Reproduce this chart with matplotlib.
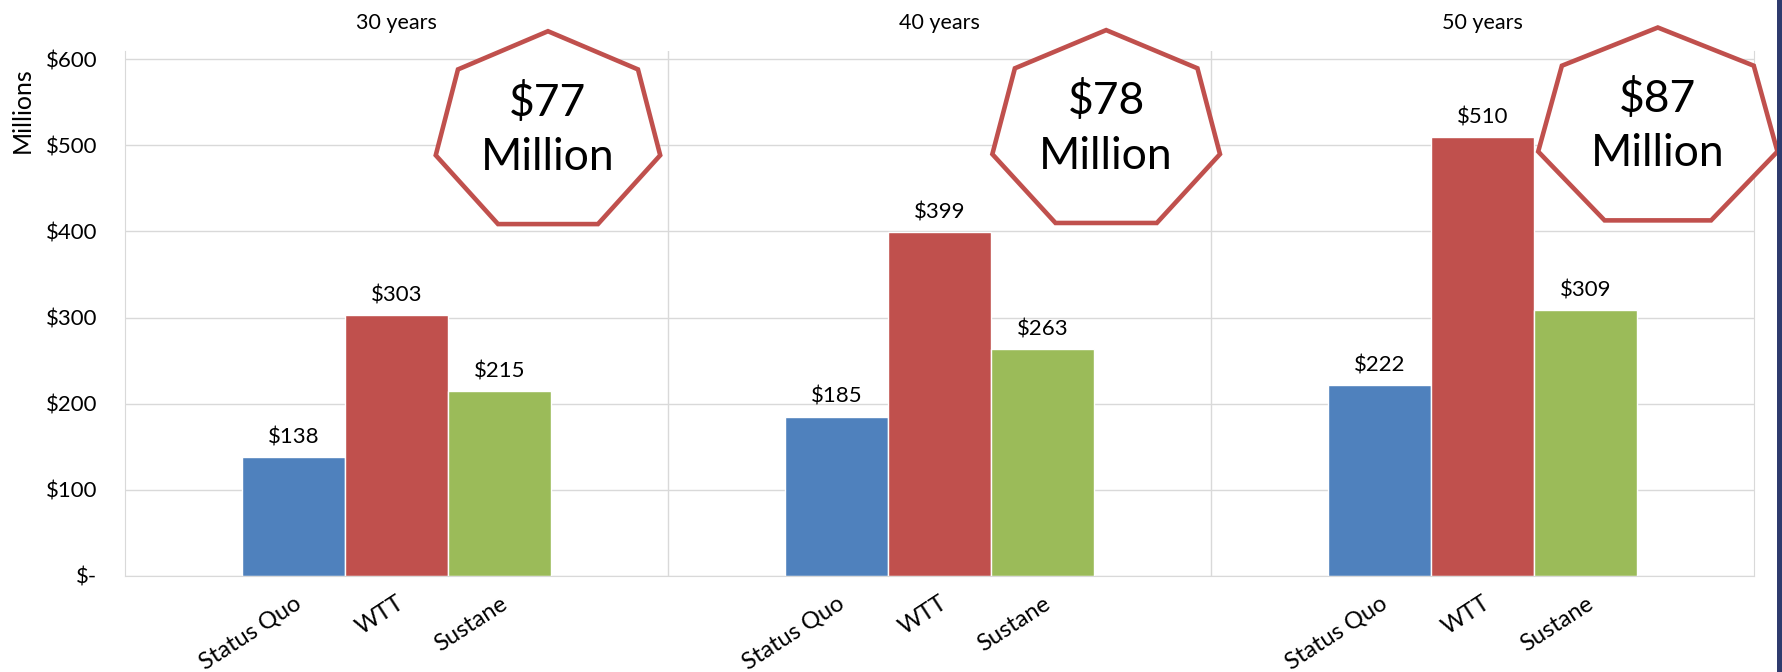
import numpy as np
import matplotlib
matplotlib.use("Agg")
import matplotlib.pyplot as plt
from matplotlib.patches import Polygon, Rectangle
from matplotlib import transforms

periods = ["30 years", "40 years", "50 years"]
options = ["Status Quo", "WTT", "Sustane"]
status_quo = [138, 185, 222]
wtt = [303, 399, 510]
sustane = [215, 263, 309]
savings = [77, 78, 87]

colors = ["#4F81BD", "#C0504D", "#9BBB59"]
grid_c = "#D9D9D9"

plt.rcParams["font.family"] = ["Lato", "DejaVu Sans"]
plt.rcParams["text.parse_math"] = False

fig = plt.figure(figsize=(17.83, 6.72), dpi=100)
ax = fig.add_axes([0.0701, 0.1429, 0.9136, 0.7818])

width = 0.19
x = np.arange(len(periods))
tick_pos = []
for k, (vals, c) in enumerate(zip([status_quo, wtt, sustane], colors)):
    pos = x + (k - 1) * width
    tick_pos.append(pos)
    ax.bar(pos, vals, width, color=c, edgecolor="white", linewidth=1, zorder=2)
    for p, v in zip(pos, vals):
        ax.annotate("$%d" % v, (p, v), xytext=(0, 7), textcoords="offset points",
                    ha="center", va="bottom", fontsize=16)

ax.set_xlim(-0.5, 2.5)
ax.set_ylim(0, 610)
ax.set_yticks(range(0, 601, 100))
ax.set_yticklabels(["$-"] + ["$%d" % v for v in range(100, 601, 100)], fontsize=16)
ax.yaxis.grid(True, color=grid_c, lw=1, zorder=0)
for b in [0.5, 1.5]:
    ax.axvline(b, color=grid_c, lw=1, zorder=0)
for s in ["left", "right", "bottom"]:
    ax.spines[s].set_color(grid_c)
ax.spines["top"].set_visible(False)

# category ticks sit under each bar
order = np.argsort(np.concatenate(tick_pos))
all_pos = np.concatenate(tick_pos)[order]
all_lab = np.array([o for o in options for _ in periods])[order]
ax.set_xticks(all_pos)
ax.set_xticklabels(all_lab, rotation=33, ha="right", rotation_mode="anchor", fontsize=17)
ax.tick_params(length=0)
ax.tick_params(axis="y", pad=20)
ax.tick_params(axis="x", pad=12)

# period titles above each panel
tr = transforms.blended_transform_factory(ax.transData, fig.transFigure)
for i, p in enumerate(periods):
    ax.text(i, 0.966, p, transform=tr, ha="center", va="center", fontsize=15.5)

fig.text(0.0123, 0.836, "Millions", rotation=90, ha="center", va="center", fontsize=18)

# heptagon callouts with the savings
hx = [0.279, 0.307, 0.323]
hy = [514.7, 516, 519]
hrx = [0.212, 0.215, 0.226]
hry = 117.8
ang = np.pi / 2 + 2 * np.pi * np.arange(7) / 7
for i, s in enumerate(savings):
    cx = x[i] + hx[i]
    pts = np.column_stack([cx + hrx[i] * np.cos(ang), hy[i] + hry * np.sin(ang)])
    ax.add_patch(Polygon(pts, closed=True, facecolor="white", edgecolor="#C0504D",
                         lw=3.3, clip_on=False, zorder=5))
    ax.text(cx, hy[i] + 35, "$%d" % s, ha="center", va="center", fontsize=32, zorder=6)
    ax.text(cx, hy[i] - 29, "Million", ha="center", va="center", fontsize=32, zorder=6)

fig.patches.append(Rectangle((1777 / 1783, 0), 6 / 1783, 1, transform=fig.transFigure,
                             facecolor="#2E3B6E", edgecolor="none"))

fig.savefig("out.png", dpi=100)
